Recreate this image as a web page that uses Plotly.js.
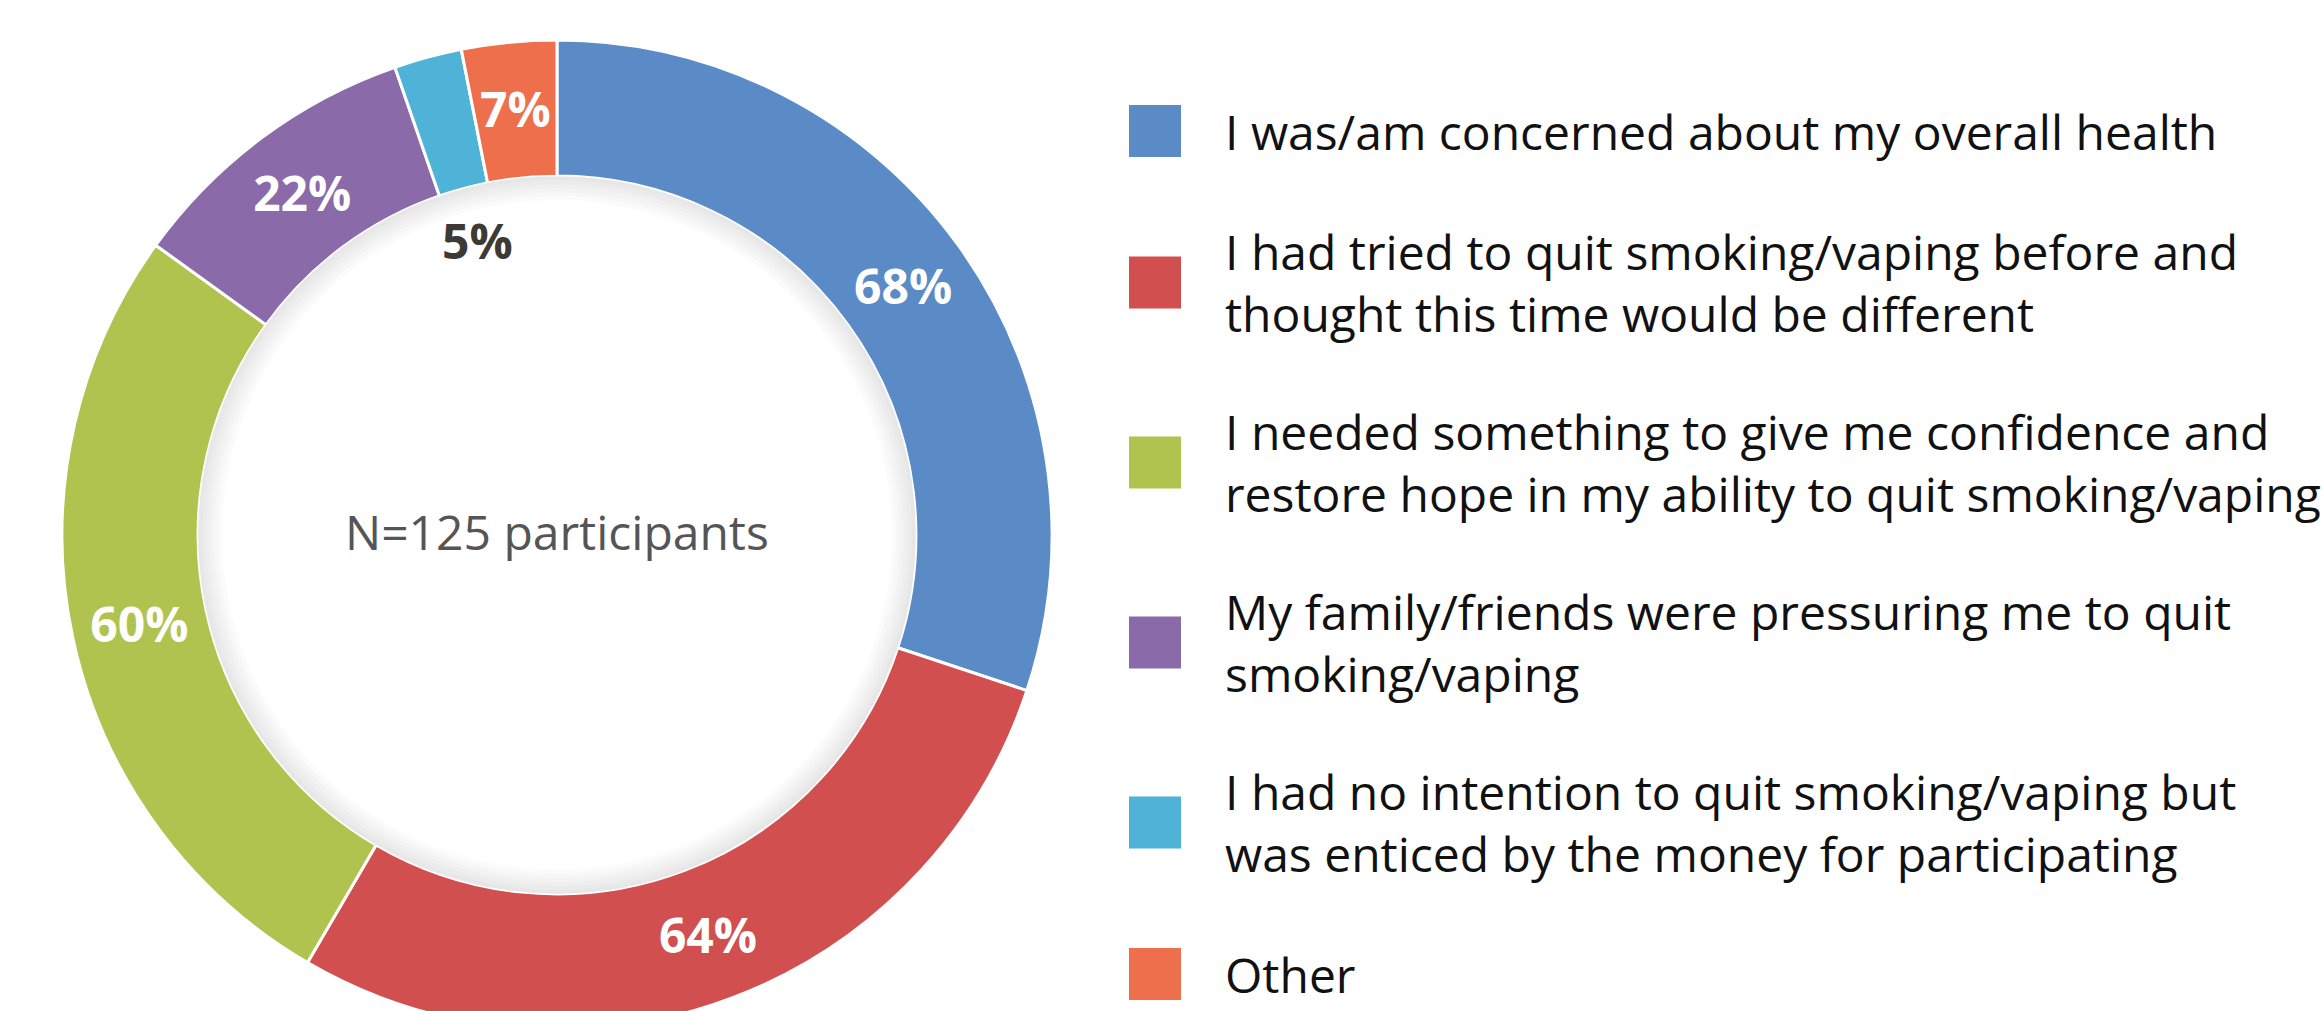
<!DOCTYPE html>
<html>
<head>
<meta charset="utf-8">
<script src="https://cdn.plot.ly/plotly-3.0.1.min.js"></script>
<style>
  html, body { margin: 0; padding: 0; background: #fff; overflow: hidden; }
  #plot { width: 2324px; height: 1040px; }
</style>
</head>
<body>
<div id="plot"></div>
<script>
// Reasons for joining (share of participants, %)
let labels = [
  "I was/am concerned about my overall health",
  "I had tried to quit smoking/vaping before and<br>thought this time would be different",
  "I needed something to give me confidence and<br>restore hope in my ability to quit smoking/vaping",
  "My family/friends were pressuring me to quit<br>smoking/vaping",
  "I had no intention to quit smoking/vaping but<br>was enticed by the money for participating",
  "Other"
]
let values = [68, 64, 60, 22, 5, 7]
let colors = ["#5a8bc6", "#d14f4e", "#b1c34f", "#8a6aa9", "#4fb2d7", "#ed6f4b"]
let centerText = "N=125 participants"

// page geometry (pixels)
let W = 2324, H = 1040
let cx = 557, cy = 535, R = 495
let holeFrac = 0.725
let px = x => x / W
let py = y => 1 - y / H

let total = values.reduce((a, b) => a + b, 0)

// thin slices get their label placed by hand (plotly would shrink it)
// idx -> [radius, colour]
let manual = { 4: [305, "#3d3935"], 5: [429, "#ffffff"] }
let textpos = values.map((v, i) => manual[i] ? "none" : "inside")

let trace1 = {
  type: "pie",
  values: values,
  labels: labels,
  sort: false,
  direction: "clockwise",
  rotation: 0,
  hole: holeFrac,
  marker: { colors: colors, line: { color: "#ffffff", width: 3 } },
  texttemplate: "%{value}%",
  textposition: textpos,
  insidetextorientation: "horizontal",
  textfont: { family: "Open Sans", size: 48, color: "#ffffff", weight: 700 },
  hoverinfo: "none",
  domain: { x: [px(cx - R), px(cx + R)], y: [py(cy + R), py(cy - R)] }
}

let annotations = []
let shapes = []

// centre caption
annotations.push({
  xref: "paper", yref: "paper", x: px(cx), y: py(531),
  text: centerText, showarrow: false, xanchor: "center", yanchor: "middle",
  font: { family: "Open Sans", size: 48, color: "#555555" }
})

// labels for the thin slices, at their mid angle
let cum = 0
for (let i = 0; i < values.length; i++) {
  if (manual[i]) {
    let ang = (cum + values[i] / 2) / total * 2 * Math.PI
    let r = manual[i][0]
    annotations.push({
      xref: "paper", yref: "paper",
      x: px(cx + r * Math.sin(ang)), y: py(cy - r * Math.cos(ang)),
      text: values[i] + "%", showarrow: false, xanchor: "center", yanchor: "middle",
      font: { family: "Open Sans", size: 48, color: manual[i][1], weight: 700 }
    })
  }
  cum += values[i]
}

// soft inner shadow on the hole edge
let rHole = R * holeFrac
for (let w = 4; w <= 24; w += 4) {
  let r = rHole - w / 2
  shapes.push({
    type: "circle", xref: "paper", yref: "paper",
    x0: px(cx - r), x1: px(cx + r), y0: py(cy + r), y1: py(cy - r),
    line: { color: "rgba(0,0,0,0.015)", width: w }
  })
}

// legend: squares + text blocks
let lineH = 57, gap = 66
let cursor = 131 - lineH / 2
let sqX = 1129, sqSize = 52, textX = 1223
for (let i = 0; i < labels.length; i++) {
  let nLines = labels[i].split("<br>").length
  let mid = cursor + nLines * lineH / 2
  shapes.push({
    type: "rect", xref: "paper", yref: "paper",
    x0: px(sqX), x1: px(sqX + sqSize), y0: py(mid + sqSize / 2), y1: py(mid - sqSize / 2),
    fillcolor: colors[i], line: { width: 0 }
  })
  annotations.push({
    xref: "paper", yref: "paper", x: px(textX), y: py(mid),
    text: labels[i], showarrow: false, xanchor: "left", yanchor: "middle", align: "left",
    font: { family: "Open Sans", size: 48, color: "#111111" }
  })
  cursor += nLines * lineH + gap
}

let layout = {
  width: W,
  height: H,
  margin: { l: 0, r: 0, t: 0, b: 0 },
  showlegend: false,
  paper_bgcolor: "#ffffff",
  annotations: annotations,
  shapes: shapes
}

Plotly.newPlot("plot", [trace1], layout, { displayModeBar: false, staticPlot: true })
</script>
</body>
</html>
